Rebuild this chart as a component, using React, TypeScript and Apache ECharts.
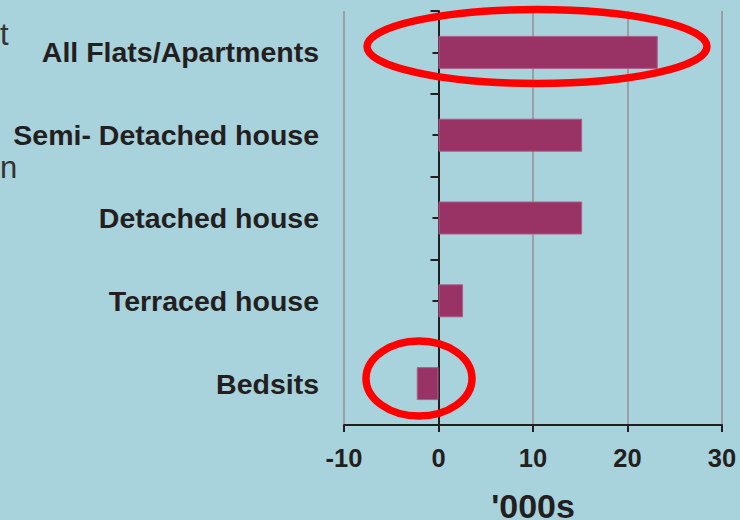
import React, { useEffect, useRef } from "react";
import * as echarts from "echarts";

const categories = [
  "Bedsits",
  "Terraced house",
  "Detached house",
  "Semi- Detached house",
  "All Flats/Apartments",
];
const changeThousands = [-2.3, 2.6, 15.2, 15.2, 23.2];
const xTicks = { min: -10, max: 30, interval: 10 };
const xAxisName = "'000s";

const FONT = "'Liberation Sans', Arial, Helvetica, sans-serif";
const DARK = "#231f20";

export default function App() {
  const ref = useRef<HTMLDivElement>(null);
  useEffect(() => {
    if (!ref.current) return;
    const chart = echarts.init(ref.current, undefined, { renderer: "svg" });
    chart.setOption({
      animation: false,
      backgroundColor: "#a8d2dc",
      textStyle: { fontFamily: FONT },
      grid: {
        left: 344,
        right: 18,
        top: 11,
        bottom: 95,
        containLabel: false,
        outerBoundsMode: "none",
      },
      xAxis: {
        type: "value",
        min: xTicks.min,
        max: xTicks.max,
        interval: xTicks.interval,
        name: xAxisName,
        nameLocation: "middle",
        nameGap: 67,
        nameTextStyle: {
          fontSize: 34,
          lineHeight: 28,
          fontWeight: "bold",
          color: DARK,
          fontFamily: FONT,
        },
        axisLine: { show: true, onZero: false, lineStyle: { color: DARK, width: 2 } },
        axisTick: { show: true, length: 7, lineStyle: { color: DARK, width: 2 } },
        axisLabel: { fontSize: 25.5, fontWeight: "bold", color: DARK, margin: 20, fontFamily: FONT },
        splitLine: { show: true, lineStyle: { color: "#9a9fa2", width: 2 } },
      },
      yAxis: [
        {
          type: "category",
          position: "left",
          data: categories,
          axisLine: { show: true, onZero: true, lineStyle: { color: DARK, width: 2 } },
          axisTick: { show: true, length: 8, alignWithLabel: false, lineStyle: { color: DARK, width: 2 } },
          axisLabel: { fontSize: 28.5, fontWeight: "bold", color: DARK, margin: 25, fontFamily: FONT },
          splitLine: { show: false },
        },
        {
          type: "category",
          position: "left",
          data: categories,
          axisLine: { show: false, onZero: true, onZeroAxisIndex: 0 },
          axisTick: { show: true, length: 6, alignWithLabel: true, lineStyle: { color: DARK, width: 2 } },
          axisLabel: { show: false },
          splitLine: { show: false },
        },
      ],
      series: [
        {
          type: "bar",
          yAxisIndex: 0,
          data: changeThousands,
          barWidth: 33,
          itemStyle: { color: "#993366", borderColor: "#ad5d86", borderWidth: 1 },
          z: 1,
        },
      ],
      graphic: [
        {
          type: "text",
          left: 0,
          top: 19,
          style: { text: "t", fontSize: 31, fill: "#333333", fontFamily: FONT },
        },
        {
          type: "text",
          left: 0,
          top: 152,
          style: { text: "n", fontSize: 31, fill: "#333333", fontFamily: FONT },
        },
        {
          type: "ellipse",
          shape: { cx: 537, cy: 46.5, rx: 170, ry: 37 },
          style: { fill: "none", stroke: "#ff0000", lineWidth: 7.5 },
          z: 100,
        },
        {
          type: "ellipse",
          shape: { cx: 419, cy: 378.5, rx: 53, ry: 37.5 },
          style: { fill: "none", stroke: "#ff0000", lineWidth: 7.5 },
          z: 100,
        },
      ],
    });
    return () => chart.dispose();
  }, []);
  return (
    <div
      ref={ref}
      style={{ position: "absolute", left: 0, top: 0, width: 740, height: 520 }}
    />
  );
}
